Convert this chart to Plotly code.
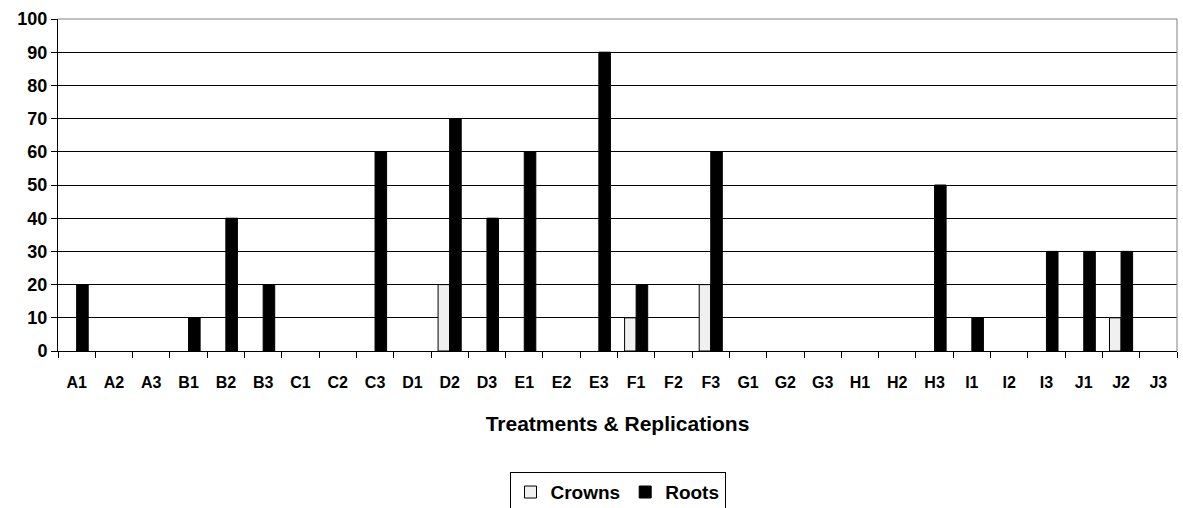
import plotly.graph_objects as go

categories = ["A1","A2","A3","B1","B2","B3","C1","C2","C3","D1","D2","D3","E1","E2","E3",
              "F1","F2","F3","G1","G2","G3","H1","H2","H3","I1","I2","I3","J1","J2","J3"]
crowns = [0,0,0,0,0,0,0,0,0,0,20,0,0,0,0,10,0,20,0,0,0,0,0,0,0,0,0,0,10,0]
roots  = [20,0,0,10,40,20,0,0,60,0,70,40,60,0,90,20,0,60,0,0,0,0,0,50,10,0,30,30,30,0]
y_ticks = list(range(0, 101, 10))

font_family = "Liberation Sans, Arial, sans-serif"

# Zero values are not drawn as bars (as in the original chart)
crowns_plot = [v if v else None for v in crowns]
roots_plot = [v if v else None for v in roots]

fig = go.Figure()
fig.add_trace(go.Bar(x=categories, y=crowns_plot, name="Crowns",
                     marker=dict(color="#f0f0f0", line=dict(color="black", width=1))))
fig.add_trace(go.Bar(x=categories, y=roots_plot, name="Roots",
                     marker=dict(color="black", line=dict(color="black", width=1))))

fig.update_layout(
    width=1183, height=508,
    margin=dict(l=58, r=6, t=19, b=157, autoexpand=False),
    paper_bgcolor="white", plot_bgcolor="white",
    barmode="group", bargap=0.38, bargroupgap=0,
    font=dict(family=font_family, color="black"),
    showlegend=True,
    legend=dict(orientation="h", x=0.5, xanchor="center", y=-0.365, yanchor="top",
                bordercolor="black", borderwidth=1,
                font=dict(size=19, family=font_family, weight="bold"),
                itemwidth=30, tracegroupgap=0),
    xaxis=dict(
        type="category", showline=True, linecolor="black", linewidth=1,
        ticks="outside", tickson="boundaries", ticklen=6, tickcolor="black",
        tickfont=dict(size=16, family=font_family, weight="bold"),
        ticklabelstandoff=17,
        showgrid=False, automargin=False,
        title=dict(text="Treatments & Replications", standoff=26,
                   font=dict(size=21, family=font_family, weight="bold")),
    ),
    yaxis=dict(
        range=[0, 100], tickvals=y_ticks, showline=True, linecolor="black", linewidth=1,
        ticks="outside", ticklen=6, tickcolor="black",
        tickfont=dict(size=18, family=font_family, weight="bold"),
        showgrid=True, gridcolor="black", gridwidth=1, zeroline=False, automargin=False,
    ),
    shapes=[
        dict(type="line", xref="paper", yref="paper", x0=0, x1=1, y0=1, y1=1,
             line=dict(color="#808080", width=1)),
        dict(type="line", xref="paper", yref="paper", x0=1, x1=1, y0=0, y1=1,
             line=dict(color="#808080", width=1)),
    ],
)

fig.write_html("out.html", config={"displayModeBar": False},
               post_script="document.body.style.margin='0';document.body.style.overflow='hidden';")
